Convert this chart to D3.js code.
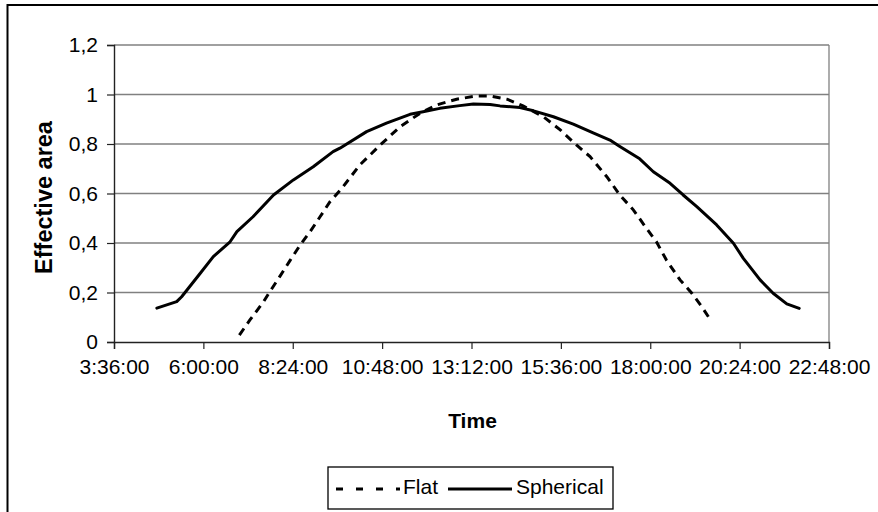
<!DOCTYPE html>
<html>
<head>
<meta charset="utf-8">
<script src="https://cdn.jsdelivr.net/npm/d3@7"></script>
<style>
  body { margin: 0; background: #fff; }
  text { font-family: "Liberation Sans", Arial, sans-serif; font-size: 21px; fill: #000; }
</style>
</head>
<body>
<svg id="chart"></svg>
<script>
// Data (time of day, effective area)
const sphericalTimes = ["4:45", "5:17", "5:25", "5:55", "6:16", "6:43", "6:54", "7:20", "7:53", "8:25",
  "8:57", "9:29", "9:40", "10:23", "10:55", "11:33", "11:54", "12:21", "12:53", "13:15",
  "13:42", "13:58", "14:30", "14:52", "15:24", "15:56", "16:28", "16:55", "17:11", "17:43",
  "18:05", "18:32", "18:53", "19:15", "19:47", "20:14", "20:30", "20:57", "21:18", "21:40", "22:00"];
const sphericalValues = [0.137, 0.163, 0.183, 0.278, 0.345, 0.405, 0.446, 0.506, 0.594, 0.655,
  0.708, 0.769, 0.783, 0.850, 0.884, 0.920, 0.930, 0.944, 0.955, 0.962,
  0.960, 0.954, 0.947, 0.934, 0.910, 0.880, 0.845, 0.816, 0.790, 0.740,
  0.688, 0.641, 0.594, 0.547, 0.473, 0.399, 0.338, 0.251, 0.197, 0.154, 0.136];

const flatTimes = ["6:58", "7:15", "7:37", "7:47", "8:03", "8:20", "8:36", "8:52", "9:08", "9:24",
  "9:43", "10:12", "10:45", "11:17", "11:49", "12:16", "12:48", "13:20", "13:42", "14:09",
  "14:35", "15:08", "15:35", "16:01", "16:23", "16:50", "17:11", "17:33", "17:52", "18:10",
  "18:26", "18:48", "19:07", "19:23", "19:37"];
const flatValues = [0.028, 0.089, 0.163, 0.203, 0.264, 0.331, 0.392, 0.446, 0.506, 0.567,
  0.621, 0.715, 0.796, 0.870, 0.924, 0.958, 0.981, 0.994, 0.994, 0.981,
  0.954, 0.910, 0.857, 0.796, 0.749, 0.668, 0.594, 0.533, 0.466, 0.405,
  0.331, 0.251, 0.197, 0.143, 0.089];

const xTickLabels = ["3:36:00", "6:00:00", "8:24:00", "10:48:00", "13:12:00", "15:36:00", "18:00:00", "20:24:00", "22:48:00"];
const yTickValues = [0, 0.2, 0.4, 0.6, 0.8, 1, 1.2];

// "H:MM" or "H:MM:SS" -> minutes since midnight
const toMinutes = s => {
  const p = s.split(":").map(Number);
  return p[0] * 60 + p[1] + (p[2] || 0) / 60;
};

const width = 878, height = 512;
const plot = {left: 114, right: 829, top: 45, bottom: 342};

const svg = d3.select("#chart")
  .attr("width", width)
  .attr("height", height);

// outer chart border
svg.append("rect")
  .attr("x", 7.5).attr("y", 5)
  .attr("width", 900).attr("height", 600)
  .attr("fill", "none")
  .attr("stroke", "#000")
  .attr("stroke-width", 2);

const xTicks = xTickLabels.map(toMinutes);

const xScale = d3.scaleLinear()
  .domain([xTicks[0], xTicks[xTicks.length - 1]])
  .range([plot.left, plot.right]);

const yScale = d3.scaleLinear()
  .domain([0, 1.2])
  .range([plot.bottom, plot.top]);

// gridlines
svg.append("g")
  .selectAll("line")
  .data(yTickValues.filter(d => d > 0))
  .join("line")
  .attr("x1", plot.left).attr("x2", plot.right)
  .attr("y1", d => yScale(d)).attr("y2", d => yScale(d))
  .attr("stroke", "#808080")
  .attr("stroke-width", 1.3);

// right edge of plot area
svg.append("line")
  .attr("x1", plot.right).attr("x2", plot.right)
  .attr("y1", plot.top).attr("y2", plot.bottom)
  .attr("stroke", "#808080")
  .attr("stroke-width", 1.3);

// y axis
const yAxis = svg.append("g")
  .attr("transform", `translate(${plot.left},0)`)
  .call(d3.axisLeft(yScale)
    .tickValues(yTickValues)
    .tickSize(7)
    .tickPadding(9)
    .tickFormat(d => String(d).replace(".", ",")));

// x axis
const xAxis = svg.append("g")
  .attr("transform", `translate(0,${plot.bottom})`)
  .call(d3.axisBottom(xScale)
    .tickValues(xTicks)
    .tickSize(7)
    .tickPadding(10)
    .tickFormat((d, i) => xTickLabels[i]));

[yAxis, xAxis].forEach(ax => {
  ax.select(".domain").attr("stroke", "#222").attr("stroke-width", 1.4);
  ax.selectAll(".tick line").attr("stroke", "#222").attr("stroke-width", 1.2);
  ax.selectAll("text")
    .attr("font-family", "Liberation Sans, Arial, sans-serif")
    .attr("font-size", 21)
    .attr("fill", "#000");
});

// axis titles
svg.append("text")
  .attr("x", (plot.left + plot.right) / 2 + 1)
  .attr("y", 428)
  .attr("text-anchor", "middle")
  .attr("font-weight", "bold")
  .text("Time");

svg.append("text")
  .attr("transform", `translate(52,${(plot.top + plot.bottom) / 2 + 4}) rotate(-90)`)
  .attr("text-anchor", "middle")
  .attr("font-weight", "bold")
  .attr("font-size", 23.5)
  .style("font-size", "23.5px")
  .text("Effective area");

// series
const line = d3.line()
  .x(d => xScale(d.t))
  .y(d => yScale(d.v));

const flat = flatTimes.map((t, i) => ({t: toMinutes(t), v: flatValues[i]}));
const spherical = sphericalTimes.map((t, i) => ({t: toMinutes(t), v: sphericalValues[i]}));

svg.append("path")
  .datum(flat)
  .attr("d", line)
  .attr("fill", "none")
  .attr("stroke", "#000")
  .attr("stroke-width", 3)
  .attr("stroke-dasharray", "8,6");

svg.append("path")
  .datum(spherical)
  .attr("d", line)
  .attr("fill", "none")
  .attr("stroke", "#000")
  .attr("stroke-width", 3)
  .attr("stroke-linejoin", "round")
  .attr("stroke-linecap", "round");

// legend
const legend = svg.append("g");
legend.append("rect")
  .attr("x", 328).attr("y", 467)
  .attr("width", 285).attr("height", 42)
  .attr("fill", "#fff")
  .attr("stroke", "#000")
  .attr("stroke-width", 1.3);

legend.append("line")
  .attr("x1", 336).attr("x2", 400)
  .attr("y1", 489).attr("y2", 489)
  .attr("stroke", "#000")
  .attr("stroke-width", 3)
  .attr("stroke-dasharray", "7,13");

legend.append("text")
  .attr("x", 403).attr("y", 494)
  .text("Flat");

legend.append("line")
  .attr("x1", 448).attr("x2", 512)
  .attr("y1", 489).attr("y2", 489)
  .attr("stroke", "#000")
  .attr("stroke-width", 3);

legend.append("text")
  .attr("x", 516).attr("y", 494)
  .text("Spherical");
</script>
</body>
</html>
